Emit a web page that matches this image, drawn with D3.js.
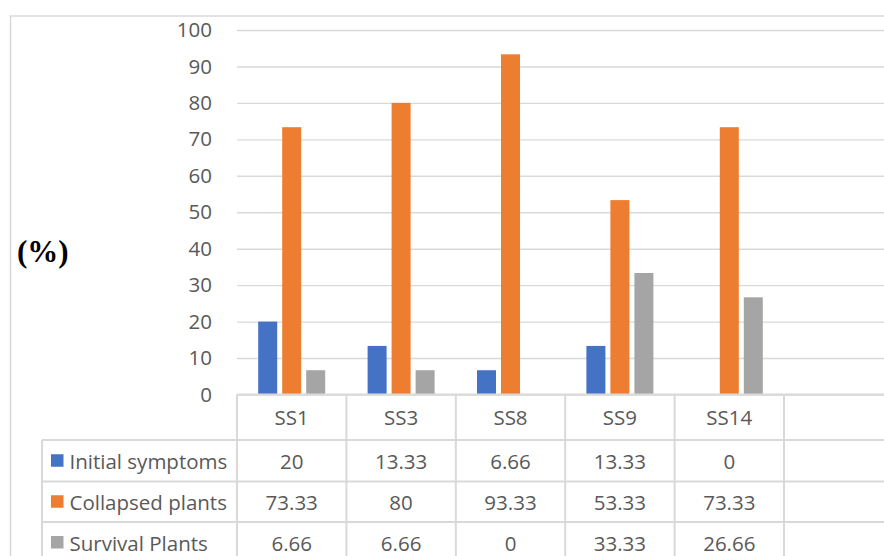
<!DOCTYPE html>
<html>
<head>
<meta charset="utf-8">
<script src="https://cdn.jsdelivr.net/npm/d3@7"></script>
<style>
  html, body { margin: 0; padding: 0; background: #fff; }
  svg { display: block; }
  text { font-family: "Open Sans", "Noto Sans", sans-serif; fill: #595959; }
</style>
</head>
<body>
<svg id="chart" width="884" height="556"></svg>
<script>
// Sampling sites and percentages of plants per condition
const categories = ["SS1", "SS3", "SS8", "SS9", "SS14"];
const seriesNames = ["Initial symptoms", "Collapsed plants", "Survival Plants"];
const initialSymptoms = [20, 13.33, 6.66, 13.33, 0];
const collapsedPlants = [73.33, 80, 93.33, 53.33, 73.33];
const survivalPlants = [6.66, 6.66, 0, 33.33, 26.66];
const yTicks = [0, 10, 20, 30, 40, 50, 60, 70, 80, 90, 100];

const series = [initialSymptoms, collapsedPlants, survivalPlants];
const colors = ["#4472c4", "#ed7d31", "#a5a5a5"];
const grid = "#d9d9d9";
const fontSize = 20.5;

const svg = d3.select("#chart");
const W = 884, H = 556;

// plot area
const plotLeft = 237, colW = 109.4;
const plotTop = 30, plotBottom = 394.5;

const x = d3.scaleBand().domain(categories).range([plotLeft, plotLeft + colW * categories.length]);
const y = d3.scaleLinear().domain([0, 100]).range([plotBottom, plotTop]);
const xInner = d3.scaleBand().domain(d3.range(series.length))
  .range([21.2, 21.2 + 67]).paddingInner(5 / 24);

// outer frame
svg.append("rect")
  .attr("x", 10.5).attr("y", 16)
  .attr("width", W + 20).attr("height", H + 20)
  .attr("fill", "none").attr("stroke", grid).attr("stroke-width", 1.5);

// horizontal gridlines + y labels via axis
const yAxis = d3.axisLeft(y).tickValues(yTicks).tickSize(-(W - plotLeft + 10)).tickPadding(25);
const gy = svg.append("g").attr("transform", `translate(${plotLeft},0)`).call(yAxis);
gy.select(".domain").remove();
gy.selectAll(".tick line").attr("stroke", grid).attr("stroke-width", 1.4);
gy.selectAll(".tick text")
  .attr("font-size", fontSize).attr("fill", "#595959")
  .style("font-family", "Open Sans, sans-serif");

// bars
categories.forEach((c, i) => {
  series.forEach((s, k) => {
    const v = s[i];
    svg.append("rect")
      .attr("x", x(c) + xInner(k))
      .attr("y", y(v))
      .attr("width", xInner.bandwidth())
      .attr("height", y(0) - y(v))
      .attr("fill", colors[k]);
  });
});

// data table under the plot
const rowY = [plotBottom, 440, 481.5, 522, 563];
const tableLeft = 42;
const colEdges = categories.map(c => x(c)).concat([plotLeft + colW * categories.length, plotLeft + colW * (categories.length + 1)]);
const lines = svg.append("g").attr("stroke", grid).attr("stroke-width", 2).attr("fill", "none");
// axis line across the bottom of the plot
lines.append("line").attr("x1", plotLeft).attr("x2", W + 10).attr("y1", plotBottom).attr("y2", plotBottom);
// row separators
rowY.slice(1).forEach(ry => {
  lines.append("line").attr("x1", tableLeft).attr("x2", W + 10).attr("y1", ry).attr("y2", ry);
});
// column separators
colEdges.forEach(cx => {
  lines.append("line").attr("x1", cx).attr("x2", cx).attr("y1", plotBottom).attr("y2", H + 10);
});
lines.append("line").attr("x1", tableLeft).attr("x2", tableLeft).attr("y1", rowY[1]).attr("y2", H + 10);

// category header row
svg.selectAll(".cat").data(categories).enter().append("text")
  .attr("x", d => x(d) + x.bandwidth() / 2)
  .attr("y", (rowY[0] + rowY[1]) / 2)
  .attr("text-anchor", "middle").attr("dominant-baseline", "central")
  .attr("font-size", fontSize).text(d => d);

// series rows with legend keys and values
seriesNames.forEach((name, k) => {
  const cy = (rowY[k + 1] + rowY[k + 2]) / 2;
  svg.append("rect").attr("x", 51).attr("y", cy - 6.5).attr("width", 12.5).attr("height", 12.5).attr("fill", colors[k]);
  svg.append("text").attr("x", 69.5).attr("y", cy)
    .attr("dominant-baseline", "central").attr("font-size", fontSize).text(name);
  series[k].forEach((v, i) => {
    svg.append("text")
      .attr("x", x(categories[i]) + x.bandwidth() / 2)
      .attr("y", cy)
      .attr("text-anchor", "middle").attr("dominant-baseline", "central")
      .attr("font-size", fontSize).text(v);
  });
});

// y axis title
svg.append("text")
  .attr("x", 17).attr("y", 262)
  .style("font-family", "'Liberation Serif', 'Times New Roman', serif")
  .attr("font-weight", "bold").attr("font-size", 31)
  .style("fill", "#000").text("(%)");
</script>
</body>
</html>
